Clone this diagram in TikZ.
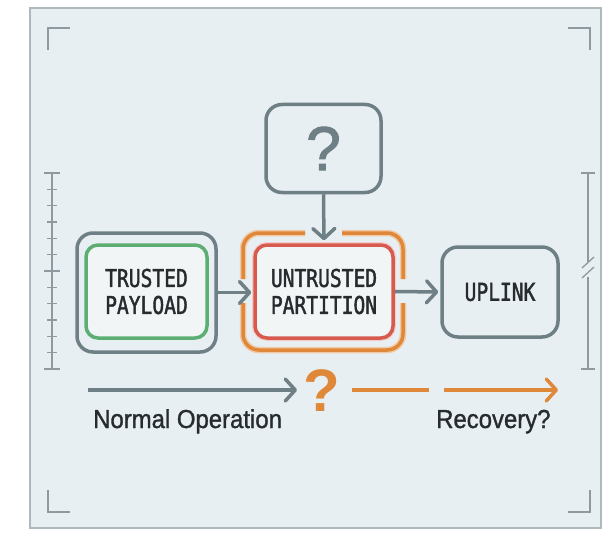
\documentclass[tikz,border=0pt]{standalone}
\usepackage{fontspec}
\setmainfont{Liberation Sans}
\newfontfamily\monofont[FakeStretch=0.8,FakeBold=1.6]{DejaVu Sans Mono}
\newfontfamily\captionfont[FakeStretch=0.92,FakeBold=1.2]{Liberation Sans}
\newfontfamily\qfont[FakeBold=1.8]{Liberation Sans}
\usetikzlibrary{arrows.meta}

\definecolor{panel}{HTML}{E7EFF2}
\definecolor{framec}{HTML}{AEB9BD}
\definecolor{tickc}{HTML}{8E9A9F}
\definecolor{grayc}{HTML}{6F7F86}
\definecolor{greenc}{HTML}{5DAE72}
\definecolor{redc}{HTML}{D65A4E}
\definecolor{orangec}{HTML}{E0883A}
\definecolor{textc}{HTML}{272B2E}
\definecolor{innerfill}{HTML}{F1F5F6}

\tikzset{
  outerbox/.style={draw=grayc, line width=3.5pt, rounded corners=16pt, fill=panel, inner sep=0pt},
  innerbox/.style={line width=3.5pt, rounded corners=12pt, fill=innerfill, inner sep=0pt,
    text=textc, align=center, font=\monofont\fontsize{24.5}{27}\selectfont},
  guardline/.style={draw=orangec, line width=3.5pt,
    preaction={draw=orangec!45, line width=6.5pt}},
  flow/.style={draw=grayc, line width=3.5pt, line join=round,
    -{Straight Barb[length=10pt,width=22pt,line cap=round,line join=round]}},
  recov/.style={draw=orangec, line width=3.5pt},
  cornermark/.style={draw=tickc, line width=1.8pt},
  rulerline/.style={draw=tickc, line width=1.3pt},
  caption/.style={text=textc, inner sep=0pt, font=\captionfont\fontsize{26}{28}\selectfont},
}

\begin{document}
\begin{tikzpicture}[x=1pt,y=-1pt]
\useasboundingbox (0,0) rectangle (611,535);
\fill[white] (0,0) rectangle (611,535);

% panel
\draw[framec, line width=1.5pt, fill=panel] (30,8) rectangle (601,528);

% corner marks
\draw[cornermark] (48,50) -- (48,28) -- (70,28);
\draw[cornermark] (568,28) -- (590,28) -- (590,50);
\draw[cornermark] (48,490) -- (48,512) -- (70,512);
\draw[cornermark] (568,512) -- (590,512) -- (590,490);

% left scale
\draw[rulerline] (52,173) -- (52,369);
\foreach \k in {0,...,12}{
  \pgfmathsetmacro{\ty}{173+\k*16.33}
  \pgfmathsetmacro{\hw}{(\k==0 || \k==12 || \k==6) ? 8 : 5}
  \draw[rulerline] (52-\hw,\ty) -- (52+\hw,\ty);
}

% right scale with break
\draw[rulerline] (588,173) -- (588,262);
\draw[rulerline] (588,277) -- (588,369);
\draw[rulerline] (581,173) -- (595,173);
\draw[rulerline] (581,369) -- (595,369);
\draw[rulerline] (582,268) -- (594,257);
\draw[rulerline] (582,278) -- (594,267);

% boxes
\node[outerbox, minimum width=139pt, minimum height=119pt] (trustouter) at (146.5,292.5) {};
\node[innerbox, draw=greenc, minimum width=121pt, minimum height=93pt] (trust) at (146.5,291.5) {TRUSTED\\PAYLOAD};

\node[inner sep=0pt, minimum width=160pt, minimum height=117pt] (guard) at (323,291.5) {};
\node[innerbox, draw=redc, preaction={draw=redc!30, line width=6pt}, minimum width=138pt, minimum height=93pt] (core) at (324,291.5) {UNTRUSTED\\PARTITION};

% orange guard ring, open where the connectors pass
\begin{scope}[rounded corners=16pt]
\path[guardline] (305,233) -- (243,233) -- (243,279);
\path[guardline] (342,233) -- (403,233) -- (403,279);
\path[guardline] (243,303) -- (243,350) -- (403,350) -- (403,303);
\end{scope}

\node[outerbox, minimum width=116pt, minimum height=90pt, text=textc,
  font=\monofont\fontsize{24.5}{27}\selectfont] (uplink) at (500,292) {UPLINK};

\node[outerbox, minimum width=115pt, minimum height=88pt, text=grayc,
  font=\qfont\fontsize{62}{62}\selectfont] (qbox) at (323.5,148.5) {?};

% connectors
\draw[flow, shorten >=2pt] (trustouter.east) -- (core.west |- trustouter.east);
\draw[flow, shorten >=2pt] (core.east) -- (uplink.west);
\draw[flow, shorten >=3pt] (qbox.south) -- (core.north);

% timeline
\coordinate (normstart) at (88,390);
\coordinate (normend) at (297,390);
\node[inner sep=0pt, text=orangec, font=\bfseries\fontsize{60}{60}\selectfont] (midq) at (322,391) {?};
\coordinate (recA) at (352,390);
\coordinate (recB) at (429,390);
\coordinate (recC) at (444,390);
\coordinate (recD) at (558,390);

\draw[flow] (normstart) -- (normend);
\draw[recov] (recA) -- (recB);
\draw[recov, line join=round,
  -{Straight Barb[length=10pt,width=22pt,line cap=round,line join=round]}] (recC) -- (recD);

\node[caption, anchor=base west] (normlabel) at (93,428) {Normal Operation};
\node[caption, anchor=base west] (reclabel) at (436,428) {Recovery?};
\end{tikzpicture}
\end{document}
